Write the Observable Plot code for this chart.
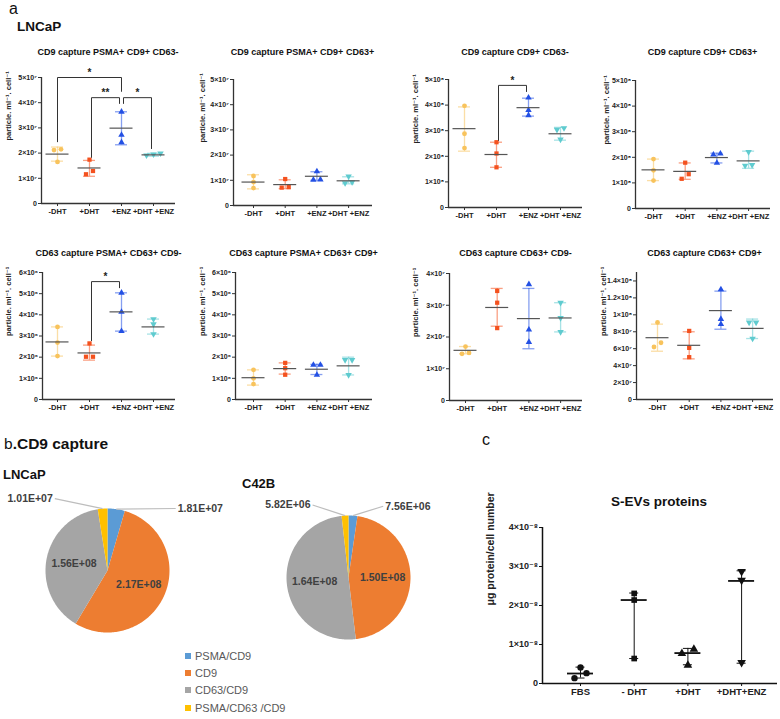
<!DOCTYPE html>
<html><head><meta charset="utf-8">
<script src="https://cdn.jsdelivr.net/npm/d3@7"></script>
<script src="https://cdn.jsdelivr.net/npm/@observablehq/plot@0.6"></script>
<style>
body{margin:0;background:#fff;}
#root{position:relative;width:780px;height:719px;overflow:hidden;font-family:Arial,"Liberation Sans",sans-serif;color:#111;}
#root svg{position:absolute;overflow:visible;}
.t{position:absolute;white-space:nowrap;line-height:1.15;}
</style></head>
<body><div id="root"></div>
<script>
// ---------------- DATA ----------------
const aCats = ["-DHT", "+DHT", "+ENZ", "+DHT +ENZ"];
const cCats = ["FBS", "- DHT", "+DHT", "+DHT+ENZ"];
const panelTitles = [
  "CD9 capture PSMA+ CD9+ CD63-", "CD9 capture PSMA+ CD9+ CD63+",
  "CD9 capture CD9+ CD63-", "CD9 capture CD9+ CD63+",
  "CD63 capture PSMA+ CD63+ CD9-", "CD63 capture PSMA+ CD63+ CD9+",
  "CD63 capture CD63+ CD9-", "CD63 capture CD63+ CD9+"
];
const yLabelA = "particle. ml⁻¹. cell⁻¹";

const p1Points = [[2.15e7, 2.12e7, 1.65e7], [1.74e7, 1.29e7, 1.16e7], [3.64e7, 2.72e7, 2.43e7], [1.99e7, 1.95e7, 1.91e7]];
const p1Mid = [1.96e7, 1.41e7, 2.99e7, 1.93e7];
const p1Lo  = [1.68e7, 1.08e7, 2.33e7, 1.88e7];
const p1Hi  = [2.24e7, 1.71e7, 3.64e7, 1.99e7];

const p2Points = [[1.17e7, 0.93e7, 0.69e7], [1.05e7, 0.73e7, 0.71e7], [1.35e7, 1.03e7, 1.02e7], [1.16e7, 0.93e7, 0.89e7]];
const p2Mid = [0.93e7, 0.83e7, 1.16e7, 0.98e7];
const p2Lo  = [0.66e7, 0.67e7, 1.00e7, 0.86e7];
const p2Hi  = [1.22e7, 1.02e7, 1.34e7, 1.14e7];

const p3Points = [[3.97e8, 2.88e8, 2.32e8], [2.55e8, 2.11e8, 1.57e8], [4.29e8, 3.80e8, 3.60e8], [3.10e8, 3.04e8, 2.66e8]];
const p3Mid = [3.08e8, 2.07e8, 3.90e8, 2.88e8];
const p3Lo  = [2.20e8, 1.57e8, 3.57e8, 2.63e8];
const p3Hi  = [3.93e8, 2.55e8, 4.27e8, 3.13e8];

const p4Points = [[1.93e8, 1.49e8, 1.09e8], [1.79e8, 1.34e8, 1.16e8], [2.14e8, 2.10e8, 1.78e8], [2.21e8, 1.68e8, 1.70e8]];
const p4Mid = [1.51e8, 1.45e8, 1.99e8, 1.86e8];
const p4Lo  = [1.09e8, 1.14e8, 1.78e8, 1.57e8];
const p4Hi  = [1.93e8, 1.78e8, 2.16e8, 2.24e8];

const p5Points = [[3.43e6, 2.69e6, 2.05e6], [2.65e6, 2.02e6, 2.02e6], [5.04e6, 4.14e6, 3.23e6], [3.80e6, 3.56e6, 3.09e6]];
const p5Mid = [2.72e6, 2.20e6, 4.14e6, 3.43e6];
const p5Lo  = [2.05e6, 1.86e6, 3.23e6, 3.09e6];
const p5Hi  = [3.43e6, 2.57e6, 5.04e6, 3.80e6];

const p6Points = [[1.40e6, 1.00e6, 0.73e6], [1.73e6, 1.48e6, 1.17e6], [1.63e6, 1.63e6, 1.16e6], [1.87e6, 1.87e6, 1.16e6]];
const p6Mid = [1.03e6, 1.46e6, 1.43e6, 1.59e6];
const p6Lo  = [0.68e6, 1.20e6, 1.18e6, 1.16e6];
const p6Hi  = [1.40e6, 1.73e6, 1.66e6, 2.00e6];

const p7Points = [[1.70e7, 1.47e7, 1.50e7], [3.45e7, 3.08e7, 2.28e7], [3.66e7, 2.23e7, 1.84e7], [3.08e7, 2.60e7, 2.16e7]];
const p7Mid = [1.58e7, 2.93e7, 2.58e7, 2.60e7];
const p7Lo  = [1.47e7, 2.34e7, 1.63e7, 2.16e7];
const p7Hi  = [1.70e7, 3.53e7, 3.53e7, 3.08e7];

const p8Points = [[9.1e7, 6.7e7, 6.2e7], [8.1e7, 6.1e7, 5.0e7], [13.0e7, 9.5e7, 8.9e7], [9.1e7, 9.1e7, 7.2e7]];
const p8Mid = [7.3e7, 6.4e7, 10.5e7, 8.4e7];
const p8Lo  = [5.7e7, 4.8e7, 8.3e7, 7.2e7];
const p8Hi  = [8.9e7, 8.0e7, 12.8e7, 9.5e7];

const yMaxA = [5e7, 5e7, 5e8, 5e8, 6e6, 6e6, 4e7, 1.5e8];
const ticks1 = [0, 1e7, 2e7, 3e7, 4e7, 5e7];
const ticks3 = [0, 1e8, 2e8, 3e8, 4e8, 5e8];
const ticks5 = [0, 1e6, 2e6, 3e6, 4e6, 5e6, 6e6];
const ticks7 = [0, 1e7, 2e7, 3e7, 4e7];
const ticks8 = [0, 2e7, 4e7, 6e7, 8e7, 1e8, 1.2e8, 1.4e8];

const p1Brackets = [
  {from: 0, to: 2, level: 5.0e7, endFrom: 2.45e7, endTo: 4.45e7, label: "*"},
  {from: 1, to: 2, level: 4.2e7, endFrom: 1.83e7, endTo: 3.97e7, label: "**"},
  {from: 2, to: 3, level: 4.2e7, endFrom: 3.97e7, endTo: 2.18e7, label: "*"}
];
const p3Brackets = [{from: 1, to: 2, level: 4.77e8, endFrom: 2.62e8, endTo: 4.53e8, label: "*"}];
const p5Brackets = [{from: 1, to: 2, level: 5.57e6, endFrom: 2.78e6, endTo: 5.28e6, label: "*"}];

// panel c
const cTitle = "S-EVs proteins";
const cYLabel = "μg protein/cell number";
const cPoints = [[0.41e-8, 0.265e-8, 0.137e-8], [2.31e-8, 2.14e-8, 0.64e-8], [0.88e-8, 0.77e-8, 0.47e-8], [2.87e-8, 2.65e-8, 0.54e-8]];
const cMid = [0.256e-8, 2.14e-8, 0.78e-8, 2.63e-8];
const cLo  = [0.14e-8, 0.64e-8, 0.48e-8, 0.52e-8];
const cHi  = [0.42e-8, 2.32e-8, 0.90e-8, 2.89e-8];
const cTicks = [0, 1e-8, 2e-8, 3e-8, 4e-8];
const cYMax = 4e-8;

// panel b (pies)
const pieCats = ["PSMA/CD9", "CD9", "CD63/CD9", "PSMA/CD63 /CD9"];
const pieLNCaP = [1.81e7, 2.17e8, 1.56e8, 1.01e7];
const pieC42B = [7.56e6, 1.50e8, 1.64e8, 5.82e6];
const pieNames = ["LNCaP", "C42B"];

// ---------------- STYLES / LAYOUT ----------------
const groupColors = ["#F8C35C", "#F4511E", "#2350E4", "#5FCBCF"];
const pieColors = ["#5B9BD5", "#ED7D31", "#A5A5A5", "#FFC000"];
const FONT = "Arial, 'Liberation Sans', 'DejaVu Sans', sans-serif";

const triDown = {draw(ctx, size) {
  const s3 = Math.sqrt(3), y = -Math.sqrt(size / (s3 * 3));
  ctx.moveTo(0, -y * 2); ctx.lineTo(-s3 * y, y); ctx.lineTo(s3 * y, y); ctx.closePath();
}};
const symbols = [d3.symbolCircle, d3.symbolSquare, d3.symbolTriangle, triDown];

const layoutA = [
  {axisX: 41,  x0: 57,  step: 32,   xEnd: 175, y0: 203, yTop: 77,  labelX: 8,   titleY: 52},
  {axisX: 233, x0: 253, step: 31.7, xEnd: 372, y0: 205, yTop: 79,  labelX: 202, titleY: 52},
  {axisX: 448, x0: 464, step: 32,   xEnd: 582, y0: 207, yTop: 79,  labelX: 415, titleY: 52},
  {axisX: 635, x0: 653, step: 31.7, xEnd: 770, y0: 208, yTop: 80,  labelX: 606, titleY: 52},
  {axisX: 42,  x0: 57,  step: 32,   xEnd: 175, y0: 399, yTop: 272, labelX: 8,   titleY: 253},
  {axisX: 235, x0: 253, step: 31.7, xEnd: 372, y0: 399, yTop: 272, labelX: 202, titleY: 253},
  {axisX: 449, x0: 465, step: 31.7, xEnd: 582, y0: 400, yTop: 273, labelX: 415, titleY: 253},
  {axisX: 636, x0: 657, step: 31.7, xEnd: 773, y0: 399, yTop: 272, labelX: 603, titleY: 253}
];
const layoutC = {axisX: 542, x0: 580, step: 53.7, xEnd: 777, y0: 683, yTop: 527, labelX: 490};

const styleA = {colors: groupColors, r: 2.4, barW: 1.3, barOp: 0.55, capW: 6, midW: 11.5, midColor: "#555", midStroke: 1.2,
  axisColor: "#333", axisW: 1.3, tickFont: 7, xFont: 7.5, labelFont: 7.5, marginTop: 14, marginBottom: 16, tie: 5, spread: 7};
const styleC = {colors: ["#111", "#111", "#111", "#111"], r: 3.2, barW: 1, barOp: 1, capW: 4.5, midW: 13, midColor: "#111", midStroke: 1.8,
  axisColor: "#111", axisW: 1.5, tickFont: 9, xFont: 9.5, labelFont: 10.5, marginTop: 6, marginBottom: 20, tie: 5, spread: 12};

const root = document.getElementById("root");
function text(str, left, top, css) {
  const d = document.createElement("div");
  d.className = "t"; d.innerHTML = str;
  d.style.left = left + "px"; d.style.top = top + "px";
  Object.assign(d.style, css || {});
  root.appendChild(d);
  return d;
}

const SUP = {"0":"⁰","1":"¹","2":"²","3":"³","4":"⁴","5":"⁵","6":"⁶","7":"⁷","8":"⁸","9":"⁹","-":"⁻"};
function sci(v) {
  if (v === 0) return "0";
  const e = Math.floor(Math.log10(Math.abs(v)) + 1e-9);
  const m = +(v / Math.pow(10, e)).toFixed(2);
  return m + "×10" + String(e).split("").map(c => SUP[c]).join("");
}
function excelSci(v) {
  const e = Math.floor(Math.log10(v) + 1e-9);
  return (v / Math.pow(10, e)).toFixed(2) + "E+" + String(e).padStart(2, "0");
}

function scatter(cfg) {
  const {L, pts, mid, lo, hi, ticks, yMax, cats, brackets = [], yLabel, st} = cfg;
  const svgLeft = L.labelX - 10;
  const mT = st.marginTop, mB = st.marginBottom, mR = 4;
  const svgTop = L.yTop - mT;
  const mL = L.axisX - svgLeft;
  const width = L.xEnd + mR - svgLeft;
  const height = L.y0 + mB - svgTop;
  const xd = [(L.axisX - L.x0) / L.step, (L.xEnd - L.x0) / L.step];
  const pyu = (L.y0 - L.yTop) / yMax;
  const px = p => p / L.step;

  const groups = mid.map((m, i) => ({i, mid: m, lo: lo[i], hi: hi[i]}));
  const dots = [];
  pts.forEach((arr, i) => {
    const sorted = arr.slice().sort((a, b) => a - b);
    const clusters = [];
    let cur = [sorted[0]];
    for (let j = 1; j < sorted.length; j++) {
      if ((sorted[j] - cur[cur.length - 1]) * pyu < st.tie) cur.push(sorted[j]);
      else { clusters.push(cur); cur = [sorted[j]]; }
    }
    clusters.push(cur);
    clusters.forEach(c => c.forEach((v, j) => {
      const off = (j - (c.length - 1) / 2) * st.spread;
      dots.push({g: i, v, x: i + px(off)});
    }));
  });

  const bpts = [];
  brackets.forEach((b, k) => {
    const inset = (b.to - b.from > 1) ? 0 : px(2);
    bpts.push({k, x: b.from + inset, y: b.endFrom});
    bpts.push({k, x: b.from + inset, y: b.level});
    bpts.push({k, x: b.to - inset, y: b.level});
    bpts.push({k, x: b.to - inset, y: b.endTo});
  });

  const marks = [
    Plot.axisY({ticks, tickFormat: sci, tickSize: 3, tickPadding: 1.5, fontSize: st.tickFont, fontWeight: "bold", label: null, stroke: st.axisColor, fill: "#222"}),
    Plot.axisX({ticks: [0, 1, 2, 3], tickFormat: i => cats[i], tickSize: 3, tickPadding: 2, fontSize: st.xFont, fontWeight: "bold", label: null, stroke: st.axisColor, fill: "#222"}),
    Plot.ruleY([0], {stroke: st.axisColor, strokeWidth: st.axisW}),
    Plot.ruleX([xd[0]], {stroke: st.axisColor, strokeWidth: st.axisW}),
    Plot.text([yLabel], {text: d => d, frameAnchor: "left", rotate: -90, dx: -(L.axisX - L.labelX), fontSize: st.labelFont, fontWeight: "bold", fill: "#222"}),
    Plot.ruleX(groups, {x: "i", y1: "lo", y2: "hi", stroke: d => st.colors[d.i], strokeWidth: st.barW, strokeOpacity: st.barOp}),
    Plot.ruleY(groups, {y: "lo", x1: d => d.i - px(st.capW), x2: d => d.i + px(st.capW), stroke: d => st.colors[d.i], strokeWidth: st.barW, strokeOpacity: st.barOp}),
    Plot.ruleY(groups, {y: "hi", x1: d => d.i - px(st.capW), x2: d => d.i + px(st.capW), stroke: d => st.colors[d.i], strokeWidth: st.barW, strokeOpacity: st.barOp}),
    ...symbols.map((sym, g) => Plot.dot(dots.filter(d => d.g === g), {x: "x", y: "v", symbol: sym, r: st.r, fill: st.colors[g], stroke: "none"})),
    Plot.ruleY(groups, {y: "mid", x1: d => d.i - px(st.midW), x2: d => d.i + px(st.midW), stroke: st.midColor, strokeWidth: st.midStroke})
  ];
  if (brackets.length) {
    marks.push(Plot.line(bpts, {x: "x", y: "y", z: "k", stroke: "#333", strokeWidth: 1}));
    marks.push(Plot.text(brackets, {x: d => (d.from + d.to) / 2, y: "level", text: "label", dy: -5, fontSize: 10, fontWeight: "bold", fill: "#222"}));
  }
  const svg = Plot.plot({
    width, height, marginLeft: mL, marginRight: mR, marginTop: mT, marginBottom: mB,
    x: {type: "linear", domain: xd},
    y: {type: "linear", domain: [0, yMax]},
    style: {fontFamily: FONT, background: "none"},
    marks
  });
  svg.style.left = svgLeft + "px"; svg.style.top = svgTop + "px";
  root.appendChild(svg);
}

function pie(values, name, box) {
  const {left, top, width, height, cx, cy, r, outside} = box;
  const xd = [(left - cx) / r, (left + width - cx) / r];
  const yd = [(cy - (top + height)) / r, (cy - top) / r];
  const arcs = d3.pie().sort(null)(values);
  const total = d3.sum(values);
  const poly = [];
  arcs.forEach((a, k) => {
    const n = Math.max(2, Math.ceil((a.endAngle - a.startAngle) / 0.02));
    poly.push({k, x: 0, y: 0});
    for (let j = 0; j <= n; j++) {
      const t = a.startAngle + (a.endAngle - a.startAngle) * j / n;
      poly.push({k, x: Math.sin(t), y: Math.cos(t)});
    }
    poly.push({k, x: 0, y: 0});
  });
  const inner = arcs.filter(a => a.value / total >= 0.1).map(a => {
    const m = (a.startAngle + a.endAngle) / 2;
    return {x: 0.55 * Math.sin(m), y: 0.55 * Math.cos(m), t: excelSci(a.value)};
  });
  const outer = arcs.filter(a => a.value / total < 0.1).map(a => {
    const m = (a.startAngle + a.endAngle) / 2;
    const o = outside[a.index];
    return {x1: Math.sin(m), y1: Math.cos(m), x2: o[0], y2: o[1], anchor: o[2], t: excelSci(a.value)};
  });
  const svg = Plot.plot({
    width, height, margin: 0,
    x: {domain: xd, axis: null}, y: {domain: yd, axis: null},
    style: {fontFamily: FONT, background: "none"},
    marks: [
      Plot.line(poly, {x: "x", y: "y", z: "k", fill: d => pieColors[d.k], stroke: "none"}),
      Plot.link(outer, {x1: "x1", y1: "y1", x2: "x2", y2: "y2", stroke: "#BDBDBD", strokeWidth: 1.2}),
      Plot.text(inner, {x: "x", y: "y", text: "t", fontSize: 10.5, fontWeight: "bold", fill: "#404040"}),
      Plot.text(outer.filter(d => d.anchor === "start"), {x: "x2", y: "y2", text: "t", textAnchor: "start", dx: 2, fontSize: 10.5, fontWeight: "bold", fill: "#404040"}),
      Plot.text(outer.filter(d => d.anchor === "end"), {x: "x2", y: "y2", text: "t", textAnchor: "end", dx: -2, fontSize: 10.5, fontWeight: "bold", fill: "#404040"})
    ]
  });
  svg.style.left = left + "px"; svg.style.top = top + "px";
  root.appendChild(svg);
}

// ---------------- BUILD ----------------
const aPanels = [
  [p1Points, p1Mid, p1Lo, p1Hi, ticks1, p1Brackets],
  [p2Points, p2Mid, p2Lo, p2Hi, ticks1, []],
  [p3Points, p3Mid, p3Lo, p3Hi, ticks3, p3Brackets],
  [p4Points, p4Mid, p4Lo, p4Hi, ticks3, []],
  [p5Points, p5Mid, p5Lo, p5Hi, ticks5, p5Brackets],
  [p6Points, p6Mid, p6Lo, p6Hi, ticks5, []],
  [p7Points, p7Mid, p7Lo, p7Hi, ticks7, []],
  [p8Points, p8Mid, p8Lo, p8Hi, ticks8, []]
];
aPanels.forEach(([pts, mid, lo, hi, ticks, brackets], k) => {
  const L = layoutA[k];
  scatter({L, pts, mid, lo, hi, ticks, yMax: yMaxA[k], cats: aCats, brackets, yLabel: yLabelA, st: styleA});
  text(panelTitles[k], (L.axisX + L.xEnd) / 2, L.titleY, {fontSize: "9px", fontWeight: "bold", transform: "translate(-50%,-50%)", color: "#111"});
});

scatter({L: layoutC, pts: cPoints, mid: cMid, lo: cLo, hi: cHi, ticks: cTicks, yMax: cYMax, cats: cCats, yLabel: cYLabel, st: styleC});
text(cTitle, 659, 502, {fontSize: "13.5px", fontWeight: "bold", transform: "translate(-50%,-50%)"});

// pies
pie(pieLNCaP, pieNames[0], {left: 0, top: 488, width: 232, height: 157, cx: 107, cy: 570, r: 62,
  outside: {0: [1.10, 1.0, "start"], 3: [-0.85, 1.16, "end"]}});
pie(pieC42B, pieNames[1], {left: 236, top: 488, width: 204, height: 160, cx: 348, cy: 577, r: 62,
  outside: {0: [0.56, 1.15, "start"], 3: [-0.58, 1.17, "end"]}});
text(pieNames[0], 3, 468, {fontSize: "13px", fontWeight: "bold"});
text(pieNames[1], 242, 477, {fontSize: "13px", fontWeight: "bold"});

// legend
const legendY = [656, 673, 690, 708];
pieCats.forEach((c, k) => {
  const sw = document.createElement("div");
  Object.assign(sw.style, {position: "absolute", left: "185px", top: (legendY[k] - 3) + "px", width: "6px", height: "6px", background: pieColors[k]});
  root.appendChild(sw);
  text(c, 195, legendY[k], {fontSize: "11px", color: "#595959", transform: "translateY(-50%)"});
});

// headings
text("a", 9, 0, {fontSize: "16px"});
text("LNCaP", 17, 19, {fontSize: "13.5px", fontWeight: "bold"});
text("b<b>.CD9 capture</b>", 4, 435, {fontSize: "15.5px"});
text("c", 482, 431, {fontSize: "16px"});
</script>
</body></html>
